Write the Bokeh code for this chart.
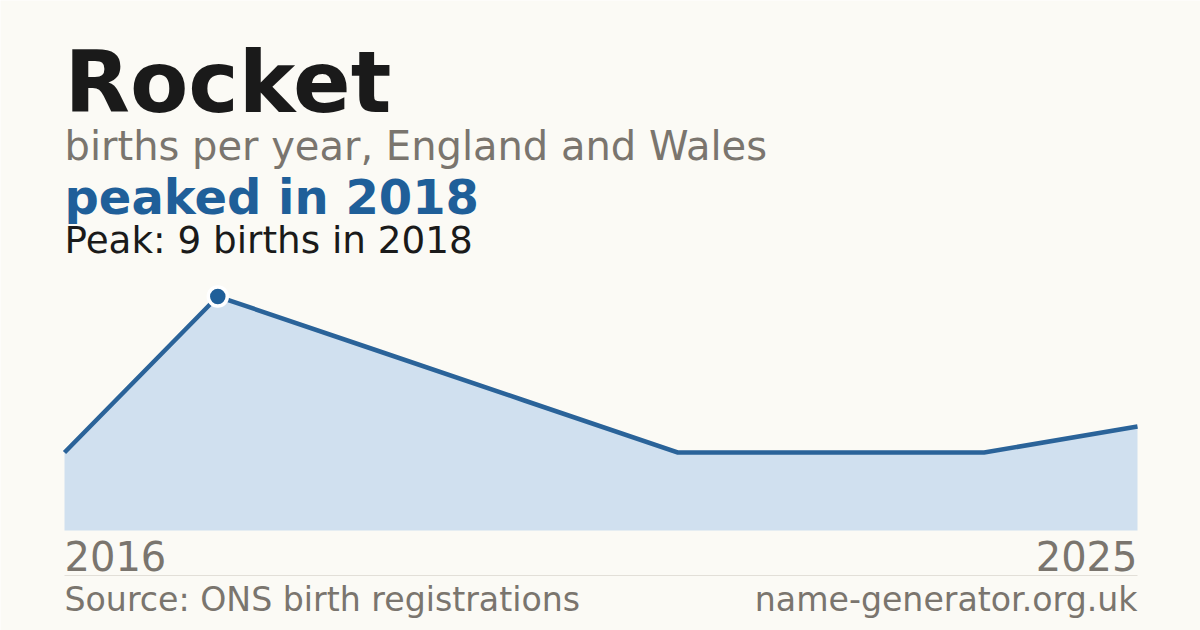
from bokeh.plotting import figure
from bokeh.models import Label, Range1d
from bokeh.embed import file_html
from bokeh.resources import INLINE

# ---- data ----
years = [2016, 2018, 2019, 2020, 2021, 2022, 2023, 2025]
births = [3, 9, 7, 5, 3, 3, 3, 4]
title_text = "Rocket"
subtitle_text = "births per year, England and Wales"
highlight_text = "peaked in 2018"
peak_year = 2018
peak_value = 9
tick_labels = ["2016", "2025"]
source_text = "Source: ONS birth registrations"
site_text = "name-generator.org.uk"

BG = "#fbfaf5"
BLUE = "#1f5f99"
GREY = "#7a756e"
FONT = "DejaVu Sans"

W, H = 1200, 630
idx = list(range(len(years)))
n = len(years) - 1
# plot region in picture px: x 64..1137, baseline at y=530, 26px per birth
LEFT, RIGHT, BASE = 64, 1137, 530
px_per_idx = (RIGHT - LEFT) / n
px_per_unit = 26.0
base_from_bottom = H - BASE
x_range = Range1d(-LEFT / px_per_idx, n + (W - RIGHT) / px_per_idx)
y_range = Range1d(-base_from_bottom / px_per_unit, (H - base_from_bottom) / px_per_unit)

p = figure(width=W, height=H, output_backend="svg", toolbar_location=None,
           x_range=x_range, y_range=y_range,
           min_border=0, min_border_left=0, min_border_right=0,
           min_border_top=0, min_border_bottom=0)
p.axis.visible = False
p.grid.visible = False
p.outline_line_color = None
p.background_fill_color = BG
p.border_fill_color = BG

p.varea(x=idx, y1=[0] * len(idx), y2=births, fill_color="#d0e0ef", fill_alpha=1.0)
p.line(x=idx, y=births, line_color="#2a6399", line_width=4.5, line_join="miter")
pi = years.index(peak_year)
p.scatter(x=[pi], y=[births[pi]], size=19, fill_color=BLUE,
          line_color="white", line_width=3.5)

def lab(text, x, baseline_y, size, color, bold=False, align="left", x_units="screen"):
    y = H - baseline_y + 0.38 * size
    p.add_layout(Label(x=x, y=y, x_units=x_units, y_units="screen", text=text,
                       text_font=FONT, text_font_size=f"{size}px",
                       text_font_style="bold" if bold else "normal",
                       text_color=color, text_align=align,
                       text_baseline="alphabetic"))

lab(title_text, LEFT, 114, 85, "#1a1a1a", bold=True)
lab(subtitle_text, LEFT, 161, 40, GREY)
lab(highlight_text, LEFT, 215, 48, BLUE, bold=True)
lab(f"Peak: {peak_value} births in {peak_year}", LEFT, 254, 37.3, "#1a1a1a")
lab(tick_labels[0], 0, 571, 40, GREY, x_units="data")
lab(tick_labels[1], n, 571, 40, GREY, align="right", x_units="data")
lab(source_text, LEFT, 612, 33.2, GREY)
lab(site_text, RIGHT, 612, 33.2, GREY, align="right")

# divider line under the year labels
div_y = (H - 575 - base_from_bottom) / px_per_unit
p.segment(x0=[0], y0=[div_y], x1=[n], y1=[div_y], line_color="#e2dfd8", line_width=1)

open("out.html", "w").write(file_html(p, INLINE))
